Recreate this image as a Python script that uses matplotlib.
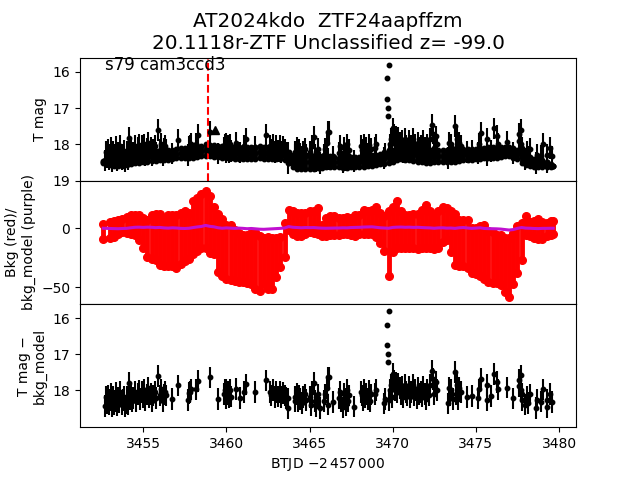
import matplotlib
matplotlib.use("Agg")
import matplotlib.pyplot as plt

TITLE = "AT2024kdo  ZTF24aapffzm\n20.1118r-ZTF Unclassified z= -99.0"
SECTOR = "s79 cam3ccd3"
EVENT_X = 3458.88
LIMIT_X = [3459.3]
LIMIT_MAG = [17.61]

grid_x = [3452.6, 3453.0, 3453.25, 3453.5, 3453.75, 3454.0, 3454.25, 3454.5, 3454.75,
          3455.0, 3455.25, 3455.5, 3455.75, 3456.0, 3456.25, 3456.5, 3456.75,
          3457.0, 3457.25, 3457.5, 3457.75, 3458.0, 3458.25, 3458.5, 3458.75,
          3459.0, 3459.25, 3459.5, 3459.75, 3460.0, 3460.25, 3460.5, 3460.75,
          3461.0, 3461.25, 3461.5, 3461.75, 3462.0, 3462.25, 3462.5, 3462.75,
          3463.0, 3463.25, 3463.5, 3463.75, 3464.0, 3464.25, 3464.5, 3464.75,
          3465.0, 3465.25, 3465.5, 3465.75, 3466.0, 3466.25, 3466.5, 3466.75,
          3467.0, 3467.25, 3467.5, 3467.75, 3468.0, 3468.25, 3468.5, 3468.75,
          3469.0, 3469.25, 3469.5, 3469.75, 3470.0, 3470.25, 3470.5, 3470.75,
          3471.0, 3471.25, 3471.5, 3471.75, 3472.0, 3472.25, 3472.5, 3472.75,
          3473.0, 3473.25, 3473.5, 3473.75, 3474.0, 3474.25, 3474.5, 3474.75,
          3475.0, 3475.25, 3475.5, 3475.75, 3476.0, 3476.25, 3476.5, 3476.75,
          3477.0, 3477.25, 3477.5, 3477.75, 3478.0, 3478.25, 3478.5, 3478.75,
          3479.0, 3479.25, 3479.5, 3479.65]

bkg_high = [3.6, 4.8, 6, 7, 7.6, 9, 10.6, 11, 11,
            8.4, 7, 10.6, 12, 12, 8.4, 10.6, 10.6,
            11, 13, 14, 12.6, 22.4, 25, 29, 31,
            26.6, 18, 12, 7.6, 2.8, 2.8, -1.4, -4,
            -5.6, -5.6, -4, -3.6, -7, -8.4, -7.8, -8.4,
            -8.4, -7.5, 4, 15.4, 14, 12.6, 13, 12.6,
            14, 14, 16.8, 2.8, 8.4, 9.8, 9.8, 8.4,
            8.4, 9.2, 8.4, 10.6, 11, 14.8, 14, 14.8,
            17.6, 12.6, 9.8, 14, 18, 22.4, 14, 11,
            11, 12, 12, 15.4, 19.6, 14, 11, 14,
            17.6, 16.8, 14, 12, 7, 6.4, 7, 0,
            0, 2, 2.8, -2.8, -3.6, -5.6, -5.6, -8.4,
            -8.4, -4.2, 1.4, 4.2, 9.8, 4.8, 5.6, 7.6,
            4.8, 4.2, 5.6, 5.6]

bkg_low = [-9, -8.4, -7.6, -5.3, -3.4, -4.2, -5.3, -6.2, -10.4,
           -17, -24, -26, -27, -31, -32, -32, -32,
           -34, -30.5, -28, -26, -22, -19, -17, -17,
           -21, -22, -37, -40, -42.5, -43.4, -44.5, -45,
           -45, -46, -47, -51, -53, -47, -51, -51,
           -41, -33, -24, -2, -4.8, -7, -7, -5,
           -3.4, -4, -5.3, -7, -7, -6, -6, -6,
           -5, -5.3, -6, -7, -5, -5.3, -5, -5,
           -7.6, -13, -19, -40, -20, -17, -16.5, -17,
           -16.5, -17, -18, -17, -17, -16.5, -18, -17,
           -12, -10, -20, -31, -32, -32, -34, -38,
           -39, -40, -42.5, -45, -46, -46, -48, -54,
           -58, -47, -38, -27, -6, -7, -8, -9,
           -9, -7, -6, -5.3]

model = [-0.2, -0.4, -0.5, -0.6, -0.4, -0.3, 0.2, 0.6, 0.7,
         0.5, 0.7, 0.6, 0.3, 0.5, 0.1, -0.1, 0.2,
         0.0, -0.3, -0.4, -0.2, 0.4, 0.9, 1.3, 2.2,
         1.4, 1.0, 0.2, -0.2, 0.1, -0.1, -0.3, -0.1,
         -0.3, -0.6, -0.4, -0.7, -1.0, -1.1, -0.9, -0.7,
         -0.5, -0.3, 0.0, 1.2, 0.6, 0.4, 0.2, 0.4,
         0.3, 0.4, 0.1, -0.1, -0.2, -0.1, 0.0, 0.0,
         0.2, 0.1, 0.4, 0.5, 0.6, 0.8, 0.9, 1.0,
         0.6, 0.2, 0.0, -0.2, 0.5, 0.7, 0.8, 0.6,
         0.7, 0.5, 0.6, 0.4, 0.2, 0.1, -0.2, 0.1,
         0.2, -0.1, 0.0, -0.3, 0.2, 0.4, 0.0, -0.3,
         -0.1, 0.2, -0.4, -0.5, -0.6, -0.7, -0.9, -1.3,
         -1.7, -1.3, -0.3, 0.4, -0.1, -0.2, -0.4, -0.5,
         -0.3, -0.3, -0.2, -0.2]

band_bright = [18.46, 18.42, 18.38, 18.33, 18.31, 18.28, 18.26, 18.25, 18.24,
               18.22, 18.21, 18.2, 18.19, 18.18, 18.17, 18.16, 18.14,
               18.12, 18.11, 18.1, 18.09, 18.07, 18.05, 18.03, 18.0,
               18.01, 18.02, 18.03, 18.04, 18.05, 18.05, 18.06, 18.06,
               18.07, 18.06, 18.06, 18.06, 18.05, 18.06, 18.07, 18.07,
               18.08, 18.1, 18.14, 18.22, 18.28, 18.3, 18.3, 18.31,
               18.31, 18.31, 18.31, 18.31, 18.31, 18.33, 18.35, 18.36,
               18.37, 18.36, 18.35, 18.35, 18.34, 18.33, 18.32, 18.3,
               18.28, 18.25, 18.2, 18.16, 18.15, 18.14, 18.13, 18.13,
               18.13, 18.13, 18.14, 18.14, 18.15, 18.15, 18.15, 18.15,
               18.15, 18.15, 18.14, 18.14, 18.13, 18.13, 18.12, 18.12,
               18.12, 18.11, 18.1, 18.08, 18.07, 18.07, 18.07, 18.07,
               18.07, 18.1, 18.14, 18.2, 18.28, 18.34, 18.39, 18.41,
               18.43, 18.48, 18.53, 18.58]

band_faint = [18.52, 18.57, 18.58, 18.59, 18.58, 18.57, 18.54, 18.52, 18.5,
              18.48, 18.47, 18.46, 18.45, 18.43, 18.43, 18.42, 18.41,
              18.38, 18.38, 18.37, 18.37, 18.36, 18.35, 18.33, 18.31,
              18.33, 18.34, 18.35, 18.37, 18.38, 18.38, 18.39, 18.39,
              18.4, 18.4, 18.39, 18.39, 18.38, 18.39, 18.39, 18.39,
              18.4, 18.41, 18.43, 18.52, 18.62, 18.68, 18.68, 18.68,
              18.68, 18.67, 18.66, 18.64, 18.63, 18.62, 18.61, 18.63,
              18.64, 18.64, 18.63, 18.63, 18.63, 18.62, 18.6, 18.58,
              18.56, 18.54, 18.53, 18.52, 18.47, 18.44, 18.41, 18.42,
              18.44, 18.46, 18.48, 18.49, 18.51, 18.5, 18.49, 18.49,
              18.48, 18.48, 18.47, 18.47, 18.46, 18.44, 18.43, 18.42,
              18.41, 18.39, 18.38, 18.37, 18.38, 18.36, 18.34, 18.33,
              18.33, 18.36, 18.41, 18.5, 18.57, 18.6, 18.62, 18.63,
              18.63, 18.63, 18.62, 18.6]

lc_x = [3452.7, 3452.76, 3452.82, 3452.88, 3452.94, 3453.0, 3453.06, 3453.12, 3453.18, 3453.25,
        3453.3, 3453.37, 3453.44, 3453.5, 3453.56, 3453.62, 3453.7, 3453.76, 3453.82, 3453.9,
        3454.0, 3454.05, 3454.1, 3454.16, 3454.2, 3454.26, 3454.32, 3454.4, 3454.5, 3454.58,
        3454.66, 3454.75, 3454.82, 3454.9, 3454.98, 3455.05, 3455.12, 3455.2, 3455.28, 3455.35,
        3455.45, 3455.52, 3455.6, 3455.7, 3455.78, 3455.9, 3456.0, 3456.08, 3456.16, 3456.24,
        3456.32, 3456.4, 3456.75, 3457.1, 3457.7, 3457.75, 3457.8, 3457.85, 3458.2, 3458.3,
        3459.04, 3459.5, 3459.85, 3459.9, 3459.96, 3460.0, 3460.06, 3460.12, 3460.18, 3460.24,
        3460.3, 3460.56, 3460.8, 3461.06, 3461.2, 3461.7, 3462.4, 3462.6, 3462.7, 3462.8,
        3462.9, 3463.0, 3463.1, 3463.2, 3463.3, 3463.4, 3463.5, 3463.6, 3463.7, 3463.72,
        3464.1, 3464.15, 3464.22, 3464.3, 3464.38, 3464.45, 3464.52, 3464.6, 3464.7, 3464.8,
        3465.0, 3465.08, 3465.16, 3465.24, 3465.32, 3465.4, 3465.5, 3465.6, 3465.85, 3465.92,
        3466.02, 3466.08, 3466.14, 3466.18, 3466.39, 3466.8, 3466.85, 3466.92, 3467.0, 3467.06,
        3467.12, 3467.2, 3467.26, 3467.34, 3467.4, 3467.7, 3468.1, 3468.16, 3468.24, 3468.3,
        3468.36, 3468.42, 3468.5, 3468.56, 3468.64, 3468.7, 3468.96, 3469.0, 3469.5, 3469.55,
        3469.64, 3469.66, 3469.7, 3469.7, 3469.76, 3469.8, 3469.86, 3469.9, 3469.94, 3470.0,
        3470.06, 3470.12, 3470.2, 3470.26, 3470.34, 3470.42, 3470.5, 3470.56, 3470.64, 3470.72,
        3470.8, 3470.88, 3470.96, 3471.04, 3471.12, 3471.2, 3471.28, 3471.36, 3471.44, 3471.52,
        3471.6, 3471.68, 3471.76, 3471.84, 3471.92, 3472.0, 3472.08, 3472.16, 3472.24, 3472.35,
        3472.42, 3472.5, 3472.6, 3472.66, 3473.3, 3473.36, 3473.42, 3473.5, 3473.6, 3473.73,
        3473.8, 3473.86, 3473.92, 3474.0, 3474.1, 3474.46, 3474.78, 3475.12, 3475.2, 3475.3,
        3475.64, 3475.68, 3475.9, 3476.12, 3476.26, 3476.34, 3476.9, 3477.24, 3477.58, 3477.62,
        3477.7, 3477.72, 3477.75, 3477.8, 3477.95, 3478.05, 3478.15, 3478.25, 3478.6, 3478.65,
        3478.92, 3479.02, 3479.25, 3479.3, 3479.46, 3479.6]

lc_mag = [18.44, 18.2, 18.35, 18.15, 18.4, 18.28, 18.1, 18.45, 18.2, 18.38,
          18.3, 18.08, 18.42, 18.22, 18.34, 18.05, 18.4, 18.28, 18.18, 18.45,
          18.35, 18.2, 18.4, 17.81, 18.25, 18.1, 18.3, 18.22, 18.05, 18.3,
          18.1, 18.02, 18.25, 18.05, 18.2, 18.0, 18.28, 18.12, 17.95, 18.2,
          18.1, 18.3, 18.15, 18.05, 18.22, 17.61, 18.15, 17.98, 18.3, 18.12,
          18.05, 18.15, 18.25, 17.87, 18.28, 18.08, 18.05, 17.98, 17.98, 17.75,
          17.65, 18.25, 18.1, 18.0, 18.22, 17.98, 18.12, 18.05, 18.2, 18.0,
          18.18, 17.97, 18.22, 18.05, 17.84, 18.06, 17.73, 18.05, 18.15, 18.0,
          18.2, 18.05, 18.18, 18.05, 18.2, 18.08, 18.15, 18.22, 18.23, 18.5,
          18.2, 18.3, 18.1, 18.32, 18.15, 18.25, 18.35, 18.2, 18.12, 18.28,
          18.2, 18.42, 18.05, 17.79, 18.3, 18.45, 18.12, 18.5, 18.3, 18.12,
          17.95, 18.4, 17.65, 17.65, 18.33, 18.23, 18.05, 18.3, 18.48, 18.1,
          18.25, 18.42, 18.0, 18.3, 18.15, 18.46, 18.05, 18.15, 18.28, 18.0,
          18.2, 18.1, 18.25, 18.02, 18.3, 18.12, 18.1, 18.0, 18.37, 18.25,
          16.18, 16.75, 17.0, 17.23, 15.81, 18.27, 18.0, 17.85, 18.2, 17.56,
          17.75, 18.0, 17.8, 18.05, 17.82, 17.95, 18.1, 17.9, 18.2, 17.85,
          18.05, 18.15, 17.9, 18.2, 18.05, 17.85, 18.15, 18.0, 18.22, 17.95,
          18.1, 18.05, 18.18, 17.9, 18.1, 18.25, 18.0, 18.15, 17.85, 17.46,
          17.7, 18.1, 17.78, 18.0, 18.37, 17.95, 18.15, 18.0, 18.25, 17.5,
          18.1, 17.85, 18.25, 17.95, 18.05, 18.2, 18.17, 18.23, 17.98, 17.68,
          17.86, 18.28, 18.17, 17.56, 17.77, 17.98, 17.93, 18.23, 17.72, 17.9,
          17.59, 18.0, 18.28, 18.1, 18.4, 18.2, 18.35, 18.12, 18.5, 18.28,
          18.32, 17.98, 18.48, 18.28, 18.1, 18.33]

lc_err = [0.3 if m > 17.3 else 0.03 for m in lc_mag]

x_ticks = [3455, 3460, 3465, 3470, 3475, 3480]
mag_ticks = [16, 17, 18, 19]
bkg_ticks = [0, -50]
diff_ticks = [16, 17, 18]

fig, (ax1, ax2, ax3) = plt.subplots(3, 1, sharex=True, figsize=(6.4, 4.8), dpi=100)
fig.subplots_adjust(hspace=0)

band_mid = [(a + b) / 2 for a, b in zip(band_bright, band_faint)]
band_half = [(b - a) / 2 for a, b in zip(band_bright, band_faint)]
ax1.errorbar(grid_x, band_mid, yerr=band_half, fmt='o', color='k', ms=3.2, elinewidth=3.5, capsize=0)
ax1.plot(grid_x, band_bright, 'o', color='k', ms=3.2)
ax1.plot(grid_x, band_faint, 'o', color='k', ms=3.2)
ax1.errorbar(lc_x, lc_mag, yerr=lc_err, fmt='o', color='k', ms=3.2, elinewidth=1.5, capsize=0)
ax1.plot(LIMIT_X, LIMIT_MAG, '^', color='k', ms=6)
ax1.axvline(EVENT_X, color='r', ls='--', lw=1.5)
ax1.text(3452.7, 15.95, SECTOR, fontsize=12)
ax1.set_xlim(3451.2, 3481.02)
ax1.set_ylim(19.0, 15.61)
ax1.set_yticks(mag_ticks)
ax1.set_ylabel("T mag")
ax1.set_title(TITLE, fontsize=14.4)

ax2.vlines(grid_x, bkg_low, bkg_high, color='r', lw=3.5)
ax2.plot(grid_x, bkg_high, 'o', color='r', ms=5.5)
ax2.plot(grid_x, bkg_low, 'o', color='r', ms=5.5)
ax2.plot(grid_x, model, '-', color='#c010d0', lw=2.2)
ax2.set_ylim(-63.9, 39.7)
ax2.set_yticks(bkg_ticks)
ax2.set_ylabel("Bkg (red)/\nbkg_model (purple)")

ax3.errorbar(lc_x, lc_mag, yerr=lc_err, fmt='o', color='k', ms=3.2, elinewidth=1.5, capsize=0)
ax3.set_ylim(19.03, 15.61)
ax3.set_yticks(diff_ticks)
ax3.set_ylabel("T mag \u2212\nbkg_model")
ax3.set_xticks(x_ticks)
ax3.set_xticklabels([str(t) for t in x_ticks])
ax3.set_xlabel(r"BTJD $-2\,457\,000$")

ax1.tick_params(axis='x', bottom=False)
ax2.tick_params(axis='x', bottom=False)

fig.savefig("out.png", dpi=100)
